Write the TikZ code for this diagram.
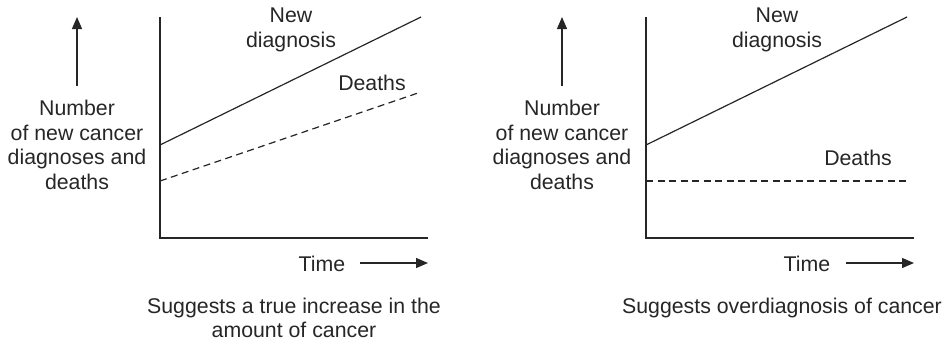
\documentclass[tikz,border=0pt]{standalone}
\usepackage{fontspec}
\setmainfont{Liberation Sans}
\usetikzlibrary{arrows.meta}
\begin{document}
\begin{tikzpicture}[x=1pt,y=-1pt,
  lbl/.style={font=\fontsize{21.3}{24.5}\selectfont,inner sep=0pt,align=center,text=black!85},
  axis/.style={line width=1.5pt,black!85},
  curve/.style={line width=1.2pt,black!85},
  dcurve/.style={line width=1.2pt,black!85,dash pattern=on 7pt off 4.5pt},
  arr/.style={line width=1.3pt,black!85,-{Triangle[length=12pt,width=10pt]}}]
\useasboundingbox (0,0) rectangle (942,341);
% ---- left panel ----
\coordinate (Ltop) at (160,17);
\coordinate (Lorig) at (160,238);
\coordinate (Lxend) at (428,238);
\draw[axis] (Ltop) -- (Lorig) -- (Lxend);
\coordinate (LnA) at (160,145);
\coordinate (LnB) at (421,17);
\draw[curve] (LnA) -- (LnB);
\coordinate (LdA) at (160,181);
\coordinate (LdB) at (418,93);
\draw[dcurve] (LdA) -- (LdB);
\coordinate (LupA) at (77,86);
\coordinate (LupB) at (77,17);
\draw[arr] (LupA) -- (LupB);
\node[lbl] (Lylab) at (77,145) {Number\\of new cancer\\diagnoses and\\deaths};
\node[lbl] (Lnew) at (291,30) {New\\diagnosis};
\node[lbl] (Ldeaths) at (372,83) {Deaths};
\node[lbl] (Ltime) at (322,264) {Time};
\coordinate (LtA) at (360,263);
\coordinate (LtB) at (428,263);
\draw[arr] (LtA) -- (LtB);
\node[lbl] (Lcap) at (294,318) {Suggests a true increase in the\\amount of cancer};
% ---- right panel ----
\coordinate (Rtop) at (646,17);
\coordinate (Rorig) at (646,238);
\coordinate (Rxend) at (914,238);
\draw[axis] (Rtop) -- (Rorig) -- (Rxend);
\coordinate (RnA) at (646,145);
\coordinate (RnB) at (907,17);
\draw[curve] (RnA) -- (RnB);
\coordinate (RdA) at (646,181);
\coordinate (RdB) at (907,181);
\draw[dcurve] (RdA) -- (RdB);
\coordinate (RupA) at (562,86);
\coordinate (RupB) at (562,17);
\draw[arr] (RupA) -- (RupB);
\node[lbl] (Rylab) at (562,145) {Number\\of new cancer\\diagnoses and\\deaths};
\node[lbl] (Rnew) at (777,30) {New\\diagnosis};
\node[lbl] (Rdeaths) at (858,158) {Deaths};
\node[lbl] (Rtime) at (807,264) {Time};
\coordinate (RtA) at (846,263);
\coordinate (RtB) at (914,263);
\draw[arr] (RtA) -- (RtB);
\node[lbl] (Rcap) at (782,308) {Suggests overdiagnosis of cancer};
\end{tikzpicture}
\end{document}
